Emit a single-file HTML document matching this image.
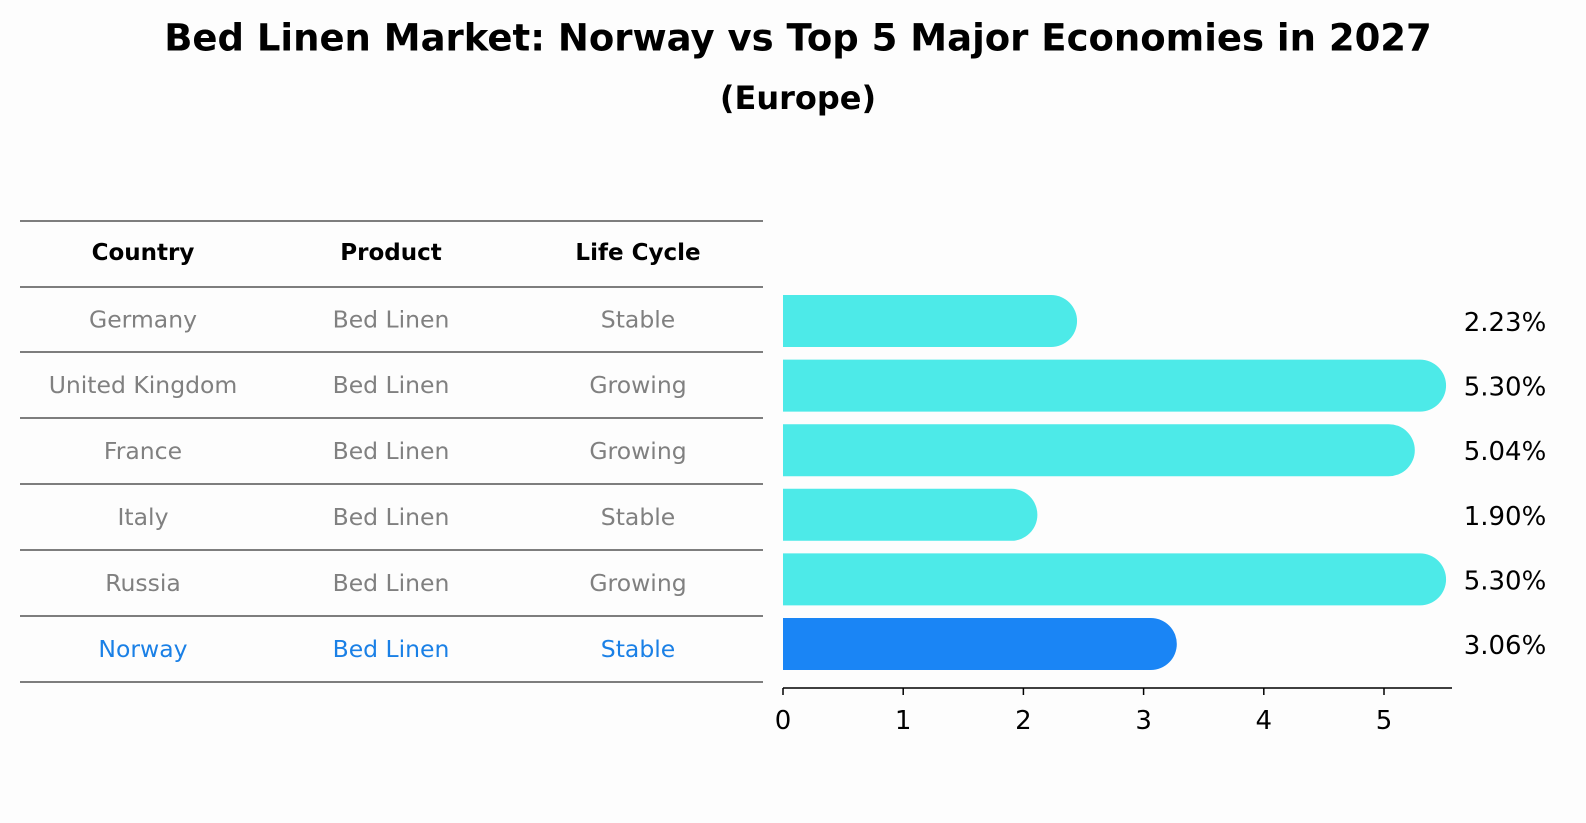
<!DOCTYPE html>
<html><head><meta charset="utf-8"><style>
body{margin:0;background:#fdfdfd;font-family:"DejaVu Sans","Liberation Sans",sans-serif;}
#w{position:relative;width:1586px;height:823px;overflow:hidden}
.t{position:absolute;white-space:nowrap;transform:translate(-50%,-50%)}
</style></head><body><div id="w">
<div class="t" style="left:798px;top:38px;font-size:37px;font-weight:bold">Bed Linen Market: Norway vs Top 5 Major Economies in 2027</div>
<div class="t" style="left:798px;top:98px;font-size:32px;font-weight:bold">(Europe)</div>
<svg id="s" width="1586" height="823" style="position:absolute;left:0;top:0"></svg>
</div>
<script>
const countries=["Germany","United Kingdom","France","Italy","Russia","Norway"];
const products=["Bed Linen","Bed Linen","Bed Linen","Bed Linen","Bed Linen","Bed Linen"];
const cycles=["Stable","Growing","Growing","Stable","Growing","Stable"];
const values=[2.23,5.30,5.04,1.90,5.30,3.06];
const ticks=[0,1,2,3,4,5];
const NS="http://www.w3.org/2000/svg",s=document.getElementById('s');
function el(t,a,txt){const e=document.createElementNS(NS,t);for(const k in a)e.setAttribute(k,a[k]);if(txt!=null)e.textContent=txt;s.appendChild(e);return e;}
const x=v=>783+v*120.2;
const rowY=i=>321+i*64.6;
const lineY=[221,287,352,418,484,550,616,682];
lineY.forEach((y,i)=>{const l=el('line',{x1:20,x2:763,y1:y,y2:y,stroke:'#000','stroke-width':1});

});
const colX=[143,391,638];
["Country","Product","Life Cycle"].forEach((h,j)=>{const t=el('text',{x:colX[j],y:260,'text-anchor':'middle','font-size':23,'font-weight':'bold'},h);

});
countries.forEach((c,i)=>{
 const col=i==5?'#1a80e6':'#808080';
 const cy=(lineY[i+1]+lineY[i+2])/2+8;
 [c,products[i],cycles[i]].forEach((v,j)=>{const t=el('text',{x:colX[j],y:cy,'text-anchor':'middle','font-size':23.5,fill:col},v);
 
 });
 const y=rowY(i),h=52,r=26,xe=x(values[i]);
 const p=el('path',{d:`M783 ${y-h/2}H${xe}A${r} ${r} 0 0 1 ${xe} ${y+h/2}H783Z`,fill:i==5?'#1a85f5':'#4deae8'});
 
 
 const t=el('text',{x:1505,y:y+10,'text-anchor':'middle','font-size':26},values[i].toFixed(2)+'%');
 
 
});
const ax=el('line',{x1:783,x2:1452,y1:688,y2:688,stroke:'#000','stroke-width':1.5});


ticks.forEach(v=>{const l=el('line',{x1:x(v),x2:x(v),y1:688,y2:695,stroke:'#000','stroke-width':1.5});


const t=el('text',{x:x(v),y:729,'text-anchor':'middle','font-size':26},v);

});
</script></body></html>
